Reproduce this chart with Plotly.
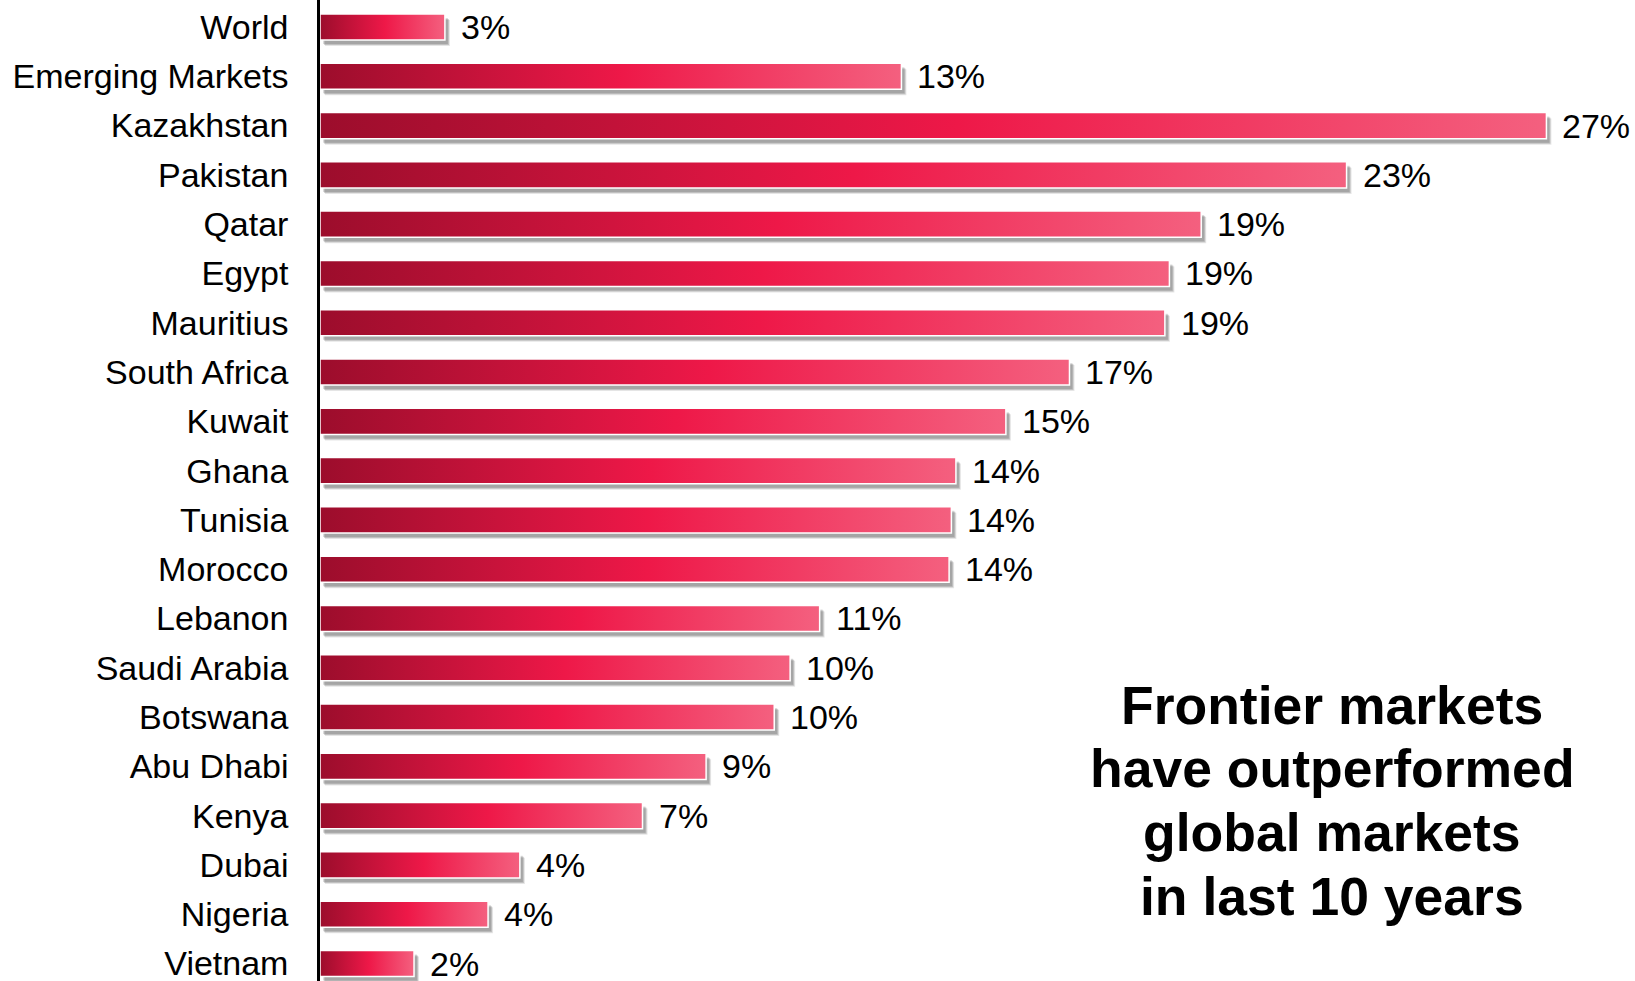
import plotly.graph_objects as go

countries = ["World", "Emerging Markets", "Kazakhstan", "Pakistan", "Qatar", "Egypt",
             "Mauritius", "South Africa", "Kuwait", "Ghana", "Tunisia", "Morocco",
             "Lebanon", "Saudi Arabia", "Botswana", "Abu Dhabi", "Kenya", "Dubai",
             "Nigeria", "Vietnam"]
values = [2.75, 12.8, 27.0, 22.6, 19.4, 18.7, 18.6, 16.5, 15.1, 14.0, 13.9, 13.85,
          11.0, 10.35, 10.0, 8.5, 7.1, 4.4, 3.7, 2.07]
labels = ["3%", "13%", "27%", "23%", "19%", "19%", "19%", "17%", "15%", "14%", "14%",
          "14%", "11%", "10%", "10%", "9%", "7%", "4%", "4%", "2%"]
title_lines = ["Frontier markets", "have outperformed", "global markets", "in last 10 years"]

W, H = 1635, 981
L = 320
XMAX = 28.95
YMIN, YMAX = -0.548, 19.355
px_x = (W - L) / XMAX
px_y = H / (YMAX - YMIN)
half = 0.265
FONT = "Liberation Sans, Arial, sans-serif"

fig = go.Figure()

# shadows
for dx, dy, op in [(5, 6, 0.10), (4, 5, 0.16), (3, 4, 0.14)]:
    ox, oy = dx / px_x, dy / px_y
    for i, v in enumerate(values):
        fig.add_trace(go.Scatter(
            x=[ox, v + ox, v + ox, ox, ox],
            y=[i - half + oy, i - half + oy, i + half + oy, i + half + oy, i - half + oy],
            mode="lines", fill="toself", fillcolor=f"rgba(0,0,0,{op})",
            line=dict(width=0), hoverinfo="skip", showlegend=False))

# bars with gradient
for i, v in enumerate(values):
    fig.add_trace(go.Scatter(
        x=[0, v, v, 0, 0],
        y=[i - half, i - half, i + half, i + half, i - half],
        mode="lines", fill="toself",
        fillgradient=dict(type="horizontal",
                          colorscale=[[0, "#9c0d2c"], [0.52, "#ee1848"], [1, "#f4607f"]]),
        line=dict(color="white", width=1.5), hoverinfo="skip", showlegend=False))

annotations = []
for i, (v, t) in enumerate(zip(values, labels)):
    annotations.append(dict(x=v, y=i, text=t, showarrow=False, xanchor="left",
                            yanchor="middle", xshift=14,
                            font=dict(family=FONT, size=34, color="black")))

title_x = 1332
line_y = [705, 768, 832, 896]
for t, yp in zip(title_lines, line_y):
    annotations.append(dict(x=(title_x - L) / (W - L), y=1 - yp / H,
                            xref="paper", yref="paper", text=f"<b>{t}</b>",
                            showarrow=False, xanchor="center", yanchor="middle",
                            font=dict(family=FONT, size=53.5, color="black")))

fig.update_layout(
    width=W, height=H,
    margin=dict(l=L, r=0, t=0, b=0),
    plot_bgcolor="white", paper_bgcolor="white",
    annotations=annotations,
    xaxis=dict(range=[0, XMAX], visible=False, showgrid=False, zeroline=False),
    yaxis=dict(range=[YMAX, YMIN], tickvals=list(range(len(countries))), ticktext=countries,
               showgrid=False, zeroline=False, showline=True, linecolor="black", linewidth=2.5,
               ticks="", ticklabelstandoff=22, ticklabeloverflow="allow",
               tickfont=dict(family=FONT, size=34, color="black")),
)

fig.write_html("out.html")
